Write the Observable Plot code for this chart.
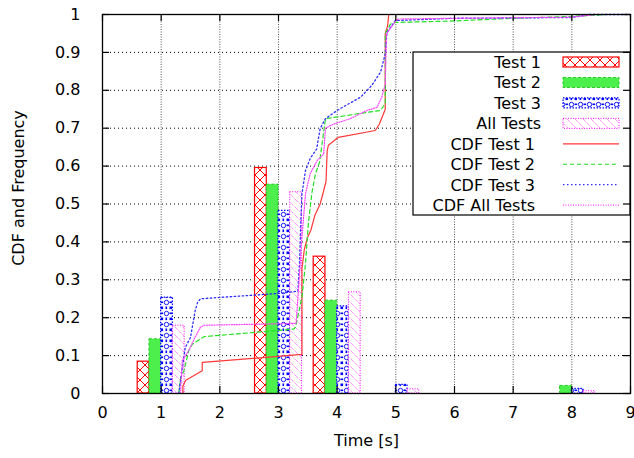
<!DOCTYPE html>
<html><head><meta charset="utf-8">
<script src="https://cdn.jsdelivr.net/npm/d3@7"></script>
<script src="https://cdn.jsdelivr.net/npm/@observablehq/plot@0.6"></script>
<style>html,body{margin:0;padding:0;background:#fff} svg{display:block}</style>
</head><body><div id="chart"></div>
<script>
// ---- data ----
const groups = [1, 3, 4, 5, 8];                     // histogram bin centres (s)
const seriesNames = ["Test 1", "Test 2", "Test 3", "All Tests"];
const test1Freq = [0.084, 0.595, 0.361, 0, 0];
const test2Freq = [0.143, 0.551, 0.245, 0, 0.02];
const test3Freq = [0.253, 0.482, 0.230, 0.023, 0.012];
const allFreq   = [0.179, 0.531, 0.267, 0.011, 0.006];

const cdf1X = [1.37, 1.37, 1.42, 1.70, 1.70, 3.40, 3.40, 3.44, 3.49, 3.55, 3.62, 3.71, 3.77, 3.81, 3.83, 3.85, 4.02, 4.65, 4.72, 4.82, 4.82, 4.86, 4.88];
const cdf1Y = [0, 0.02, 0.035, 0.06, 0.082, 0.103, 0.33, 0.38, 0.41, 0.43, 0.47, 0.50, 0.535, 0.56, 0.64, 0.655, 0.676, 0.694, 0.711, 0.75, 0.95, 0.97, 1.0];

const cdf2X = [1.30, 1.33, 1.39, 1.47, 1.53, 1.73, 3.26, 3.29, 3.40, 3.46, 3.51, 3.57, 3.63, 3.70, 3.80, 4.74, 4.82, 4.82, 4.91, 5.0, 6.0, 7.0, 8.0, 8.6, 9.0];
const cdf2Y = [0, 0.04, 0.061, 0.113, 0.13, 0.15, 0.17, 0.175, 0.254, 0.342, 0.45, 0.53, 0.58, 0.61, 0.725, 0.747, 0.765, 0.95, 0.975, 0.979, 0.983, 0.99, 0.995, 1.0, 1.0];

const cdf3X = [1.30, 1.33, 1.41, 1.50, 1.58, 1.62, 1.67, 3.0, 3.33, 3.36, 3.38, 3.40, 3.46, 3.54, 3.65, 3.71, 3.80, 4.0, 4.40, 4.59, 4.74, 4.82, 4.85, 4.99, 6.0, 8.0, 8.3, 9.0];
const cdf3Y = [0, 0.034, 0.121, 0.148, 0.219, 0.24, 0.25, 0.264, 0.27, 0.35, 0.45, 0.527, 0.588, 0.62, 0.645, 0.699, 0.725, 0.747, 0.782, 0.813, 0.848, 0.897, 0.953, 0.984, 0.99, 0.992, 1.0, 1.0];

const cdfAllX = [1.33, 1.36, 1.47, 1.58, 1.67, 1.73, 3.30, 3.34, 3.40, 3.46, 3.54, 3.66, 3.77, 3.80, 3.94, 4.22, 4.51, 4.68, 4.76, 4.82, 4.84, 5.02, 6.0, 8.0, 8.4, 9.0];
const cdfAllY = [0, 0.087, 0.113, 0.149, 0.175, 0.18, 0.185, 0.272, 0.412, 0.527, 0.58, 0.615, 0.632, 0.70, 0.711, 0.725, 0.747, 0.755, 0.782, 0.817, 0.949, 0.988, 0.99, 0.993, 1.0, 1.0];

const cdfNames = ["CDF Test 1", "CDF Test 2", "CDF Test 3", "CDF All Tests"];
const xTicks = [0, 1, 2, 3, 4, 5, 6, 7, 8, 9];
const yTicks = [0, 0.1, 0.2, 0.3, 0.4, 0.5, 0.6, 0.7, 0.8, 0.9, 1];

// ---- build tables ----
const freqs = [test1Freq, test2Freq, test3Freq, allFreq];
const offsets = [-0.3, -0.1, 0.1, 0.3];
const half = 0.1;
const bars = freqs.map((vals, k) =>
  groups.map((g, i) => ({series: seriesNames[k], x1: g + offsets[k] - half, x2: g + offsets[k] + half, y: vals[i]}))
        .filter(d => d.y > 0));
const toPts = (xs, ys) => xs.map((x, i) => ({x, y: ys[i]}));
const cdfs = [toPts(cdf1X, cdf1Y), toPts(cdf2X, cdf2Y), toPts(cdf3X, cdf3Y), toPts(cdfAllX, cdfAllY)];

const barStyles = [
  {fill: "url(#pRed)", stroke: "#ff0000", strokeWidth: 1.2},
  {fill: "#4cef4c", stroke: "#22cc22", strokeWidth: 1, strokeDasharray: "3,2"},
  {fill: "url(#pBlue)", stroke: "#0000ff", strokeWidth: 1.2, strokeDasharray: "1.5,1.5"},
  {fill: "url(#pMag)", stroke: "#ff00ff", strokeWidth: 1, strokeDasharray: "1,1.5"}
];
const lineStyles = [
  {stroke: "#ff3838", strokeWidth: 1.2},
  {stroke: "#22e022", strokeWidth: 1.2, strokeDasharray: "4,3"},
  {stroke: "#3030ff", strokeWidth: 1.3, strokeDasharray: "1.5,2.5"},
  {stroke: "#ff40ff", strokeWidth: 1.2, strokeDasharray: "1,1.5"}
];

const font = "'DejaVu Sans', sans-serif";

const chart = Plot.plot({
  width: 634, height: 458,
  marginLeft: 102, marginRight: 4, marginTop: 14, marginBottom: 65,
  x: {domain: [0, 9]},
  y: {domain: [0, 1]},
  style: {fontFamily: font, fontSize: "16px", color: "#000", background: "#fff"},
  marks: [
    Plot.ruleX(xTicks, {stroke: "#555", strokeDasharray: "1,1.5", strokeWidth: 1}),
    Plot.ruleY(yTicks, {stroke: "#000", strokeDasharray: "1,3", strokeWidth: 1}),
    ...bars.map((b, k) => Plot.rectY(b, {x1: "x1", x2: "x2", y1: 0, y2: "y", ...barStyles[k]})),
    ...cdfs.map((c, k) => Plot.line(c, {x: "x", y: "y", ...lineStyles[k]})),
    Plot.axisX({ticks: xTicks, tickSize: 0, tickPadding: 13, label: null, tickFormat: d => String(d)}),
    Plot.axisY({ticks: yTicks, tickSize: 0, tickPadding: 22, label: null, tickFormat: d => String(d)}),
    Plot.text(["Time [s]"], {frameAnchor: "bottom", dy: 47, textAnchor: "middle", lineAnchor: "middle", fontSize: 16}),
    Plot.text(["CDF and Frequency"], {frameAnchor: "left", dx: -84, dy: -16, rotate: -90, textAnchor: "middle", lineAnchor: "middle", fontSize: 16}),
    // inward ticks on all four sides
    Plot.ruleX(xTicks, {y1: 0, y2: 0, insetTop: -7, stroke: "#000", strokeWidth: 1.2}),
    Plot.ruleX(xTicks, {y1: 1, y2: 1, insetBottom: -7, stroke: "#000", strokeWidth: 1.2}),
    Plot.ruleY(yTicks, {x1: 0, x2: 0, insetRight: -7, stroke: "#000", strokeWidth: 1.2}),
    Plot.ruleY(yTicks, {x1: 9, x2: 9, insetLeft: -7, stroke: "#000", strokeWidth: 1.2}),
    Plot.frame({stroke: "#000", strokeWidth: 1.3})
  ]
});

document.getElementById("chart").appendChild(chart);

// ---- patterns ----
const svg = d3.select(chart);
const defs = svg.insert("defs", ":first-child");
const pr = defs.append("pattern").attr("id", "pRed").attr("patternUnits", "userSpaceOnUse").attr("width", 10).attr("height", 10);
pr.append("rect").attr("width", 10).attr("height", 10).attr("fill", "#fff");
pr.append("path").attr("d", "M0,0L10,10M10,0L0,10").attr("stroke", "#ff0000").attr("stroke-width", 1);

const pb = defs.append("pattern").attr("id", "pBlue").attr("patternUnits", "userSpaceOnUse").attr("width", 9).attr("height", 11);
pb.append("rect").attr("width", 9).attr("height", 11).attr("fill", "#fff");
pb.append("circle").attr("cx", 4.5).attr("cy", 5.5).attr("r", 2.2).attr("fill", "none").attr("stroke", "#0000ff").attr("stroke-width", 0.9);
[[0, 0], [4, 0], [8, 0], [0, 5], [0, 10], [4, 10], [8, 10], [8, 5]].forEach(([x, y]) =>
  pb.append("rect").attr("x", x - 0.5).attr("y", y - 0.5).attr("width", 1.6).attr("height", 1.6).attr("fill", "#0000ff"));

const pm = defs.append("pattern").attr("id", "pMag").attr("patternUnits", "userSpaceOnUse").attr("width", 8).attr("height", 8);
pm.append("rect").attr("width", 8).attr("height", 8).attr("fill", "#fff");
pm.append("path").attr("d", "M0,0L8,8M-4,4L4,12M4,-4L12,4").attr("stroke", "#ff55ff").attr("stroke-width", 0.9).attr("stroke-dasharray", "1,1");

// ---- legend (inserted below the border ticks) ----
const ns = "http://www.w3.org/2000/svg";
const rules = chart.querySelectorAll('g[aria-label="rule"]');
const legendNode = document.createElementNS(ns, "g");
chart.insertBefore(legendNode, rules[2]);
const lg = d3.select(legendNode).attr("font-family", font).attr("font-size", 16);
lg.append("rect").attr("x", 413).attr("y", 52).attr("width", 217).attr("height", 163)
  .attr("fill", "#fff").attr("stroke", "#000").attr("stroke-width", 1.2);
const rowBase = i => 68 + i * 20.45;
seriesNames.forEach((name, k) => {
  lg.append("text").attr("x", 541).attr("y", rowBase(k)).attr("text-anchor", "end").text(name);
  const s = barStyles[k];
  lg.append("rect").attr("x", 563).attr("y", rowBase(k) - 11).attr("width", 56).attr("height", 10)
    .attr("fill", s.fill).attr("stroke", s.stroke).attr("stroke-width", s.strokeWidth)
    .attr("stroke-dasharray", s.strokeDasharray || null);
});
cdfNames.forEach((name, k) => {
  const i = k + 4;
  lg.append("text").attr("x", 535).attr("y", rowBase(i)).attr("text-anchor", "end").text(name);
  const s = lineStyles[k];
  lg.append("line").attr("x1", 563).attr("x2", 619).attr("y1", rowBase(i) - 6).attr("y2", rowBase(i) - 6)
    .attr("stroke", s.stroke).attr("stroke-width", s.strokeWidth).attr("stroke-dasharray", s.strokeDasharray || null);
});
</script>
</body></html>
